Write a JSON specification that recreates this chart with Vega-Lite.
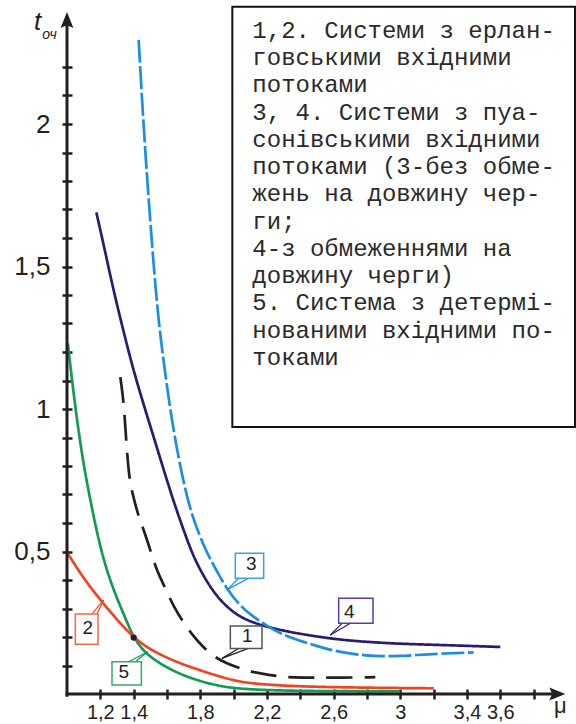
{
  "$schema": "https://vega.github.io/schema/vega-lite/v6.json",
  "width": 500,
  "height": 684,
  "autosize": {"type": "none"},
  "padding": {"left": 67, "top": 10, "right": 9, "bottom": 30},
  "background": "white",
  "config": {"view": {"stroke": null}},
  "datasets": {
    "curves": [
      {"s": "5", "x": 1.005, "y": 1.23}, {"s": "5", "x": 1.05, "y": 1.0}, {"s": "5", "x": 1.1, "y": 0.8}, {"s": "5", "x": 1.15, "y": 0.65}, {"s": "5", "x": 1.19, "y": 0.54}, {"s": "5", "x": 1.23, "y": 0.45}, {"s": "5", "x": 1.28, "y": 0.365}, {"s": "5", "x": 1.32, "y": 0.308}, {"s": "5", "x": 1.36, "y": 0.252}, {"s": "5", "x": 1.4, "y": 0.2}, {"s": "5", "x": 1.44, "y": 0.166}, {"s": "5", "x": 1.48, "y": 0.14}, {"s": "5", "x": 1.55, "y": 0.11}, {"s": "5", "x": 1.62, "y": 0.087}, {"s": "5", "x": 1.7, "y": 0.065}, {"s": "5", "x": 1.8, "y": 0.045}, {"s": "5", "x": 1.9, "y": 0.03}, {"s": "5", "x": 2.0, "y": 0.02}, {"s": "5", "x": 2.2, "y": 0.013}, {"s": "5", "x": 2.5, "y": 0.01}, {"s": "5", "x": 3.0, "y": 0.009},
      {"s": "2", "x": 1.0, "y": 0.497}, {"s": "2", "x": 1.1, "y": 0.405}, {"s": "2", "x": 1.2, "y": 0.33}, {"s": "2", "x": 1.3, "y": 0.26}, {"s": "2", "x": 1.4, "y": 0.198}, {"s": "2", "x": 1.5, "y": 0.155}, {"s": "2", "x": 1.62, "y": 0.122}, {"s": "2", "x": 1.7, "y": 0.103}, {"s": "2", "x": 1.8, "y": 0.083}, {"s": "2", "x": 1.9, "y": 0.064}, {"s": "2", "x": 2.0, "y": 0.048}, {"s": "2", "x": 2.1, "y": 0.037}, {"s": "2", "x": 2.3, "y": 0.029}, {"s": "2", "x": 2.5, "y": 0.025}, {"s": "2", "x": 2.8, "y": 0.022}, {"s": "2", "x": 3.2, "y": 0.02},
      {"s": "1", "x": 1.32, "y": 1.112}, {"s": "1", "x": 1.34, "y": 1.025}, {"s": "1", "x": 1.35, "y": 0.937}, {"s": "1", "x": 1.36, "y": 0.849}, {"s": "1", "x": 1.374, "y": 0.758}, {"s": "1", "x": 1.39, "y": 0.709}, {"s": "1", "x": 1.43, "y": 0.621}, {"s": "1", "x": 1.458, "y": 0.58}, {"s": "1", "x": 1.5, "y": 0.505}, {"s": "1", "x": 1.54, "y": 0.43}, {"s": "1", "x": 1.6, "y": 0.36}, {"s": "1", "x": 1.64, "y": 0.306}, {"s": "1", "x": 1.7, "y": 0.25}, {"s": "1", "x": 1.76, "y": 0.201}, {"s": "1", "x": 1.82, "y": 0.163}, {"s": "1", "x": 1.88, "y": 0.131}, {"s": "1", "x": 1.96, "y": 0.107}, {"s": "1", "x": 2.04, "y": 0.09}, {"s": "1", "x": 2.12, "y": 0.076}, {"s": "1", "x": 2.21, "y": 0.067}, {"s": "1", "x": 2.3, "y": 0.06}, {"s": "1", "x": 2.4, "y": 0.057}, {"s": "1", "x": 2.6, "y": 0.057}, {"s": "1", "x": 2.85, "y": 0.059},
      {"s": "4", "x": 1.176, "y": 1.69}, {"s": "4", "x": 1.228, "y": 1.555}, {"s": "4", "x": 1.278, "y": 1.419}, {"s": "4", "x": 1.34, "y": 1.27}, {"s": "4", "x": 1.398, "y": 1.137}, {"s": "4", "x": 1.46, "y": 1.015}, {"s": "4", "x": 1.52, "y": 0.902}, {"s": "4", "x": 1.57, "y": 0.806}, {"s": "4", "x": 1.62, "y": 0.712}, {"s": "4", "x": 1.67, "y": 0.623}, {"s": "4", "x": 1.74, "y": 0.51}, {"s": "4", "x": 1.78, "y": 0.457}, {"s": "4", "x": 1.84, "y": 0.393}, {"s": "4", "x": 1.9, "y": 0.342}, {"s": "4", "x": 1.97, "y": 0.3}, {"s": "4", "x": 2.04, "y": 0.27}, {"s": "4", "x": 2.12, "y": 0.25}, {"s": "4", "x": 2.2, "y": 0.236}, {"s": "4", "x": 2.3, "y": 0.222}, {"s": "4", "x": 2.4, "y": 0.211}, {"s": "4", "x": 2.55, "y": 0.197}, {"s": "4", "x": 2.7, "y": 0.187}, {"s": "4", "x": 2.85, "y": 0.181}, {"s": "4", "x": 3.0, "y": 0.176}, {"s": "4", "x": 3.3, "y": 0.171}, {"s": "4", "x": 3.6, "y": 0.165},
      {"s": "3", "x": 1.43, "y": 2.295}, {"s": "3", "x": 1.45, "y": 2.084}, {"s": "3", "x": 1.476, "y": 1.85}, {"s": "3", "x": 1.49, "y": 1.736}, {"s": "3", "x": 1.52, "y": 1.501}, {"s": "3", "x": 1.55, "y": 1.302}, {"s": "3", "x": 1.59, "y": 1.12}, {"s": "3", "x": 1.64, "y": 0.915}, {"s": "3", "x": 1.71, "y": 0.71}, {"s": "3", "x": 1.76, "y": 0.609}, {"s": "3", "x": 1.83, "y": 0.505}, {"s": "3", "x": 1.9, "y": 0.43}, {"s": "3", "x": 1.96, "y": 0.368}, {"s": "3", "x": 2.03, "y": 0.315}, {"s": "3", "x": 2.1, "y": 0.278}, {"s": "3", "x": 2.2, "y": 0.239}, {"s": "3", "x": 2.28, "y": 0.212}, {"s": "3", "x": 2.39, "y": 0.188}, {"s": "3", "x": 2.5, "y": 0.168}, {"s": "3", "x": 2.59, "y": 0.153}, {"s": "3", "x": 2.7, "y": 0.142}, {"s": "3", "x": 2.79, "y": 0.135}, {"s": "3", "x": 2.9, "y": 0.132}, {"s": "3", "x": 2.99, "y": 0.133}, {"s": "3", "x": 3.1, "y": 0.137}, {"s": "3", "x": 3.19, "y": 0.14}, {"s": "3", "x": 3.3, "y": 0.143}, {"s": "3", "x": 3.44, "y": 0.146}
    ],
    "legendbox": [{"x": 1.992, "x2": 4.048, "y": 2.411, "y2": 0.937}],
    "legendtext": [{"x": 2.112, "y": 2.302, "t": "1,2. Системи з ерлан-\nговськими    вхідними\nпотоками\n3,  4. Системи з пуа-\nсонівськими  вхідними\nпотоками (3-без обме-\nжень на довжину  чер-\nги;\n4-з   обмеженнями  на\nдовжину черги)\n5. Система з детермі-\nнованими вхідними по-\nтоками"}],
    "boxes": [
      {"s": "3", "x": 2.01, "x2": 2.18, "y": 0.494, "y2": 0.406},
      {"s": "4", "x": 2.63, "x2": 2.836, "y": 0.336, "y2": 0.248},
      {"s": "1", "x": 1.98, "x2": 2.17, "y": 0.239, "y2": 0.16},
      {"s": "2", "x": 1.05, "x2": 1.186, "y": 0.281, "y2": 0.175},
      {"s": "5", "x": 1.27, "x2": 1.446, "y": 0.113, "y2": 0.032}
    ],
    "leaders": [
      {"s": "3", "x": 2.03, "y": 0.406, "x2": 1.964, "y2": 0.367},
      {"s": "3", "x": 2.09, "y": 0.406, "x2": 1.964, "y2": 0.367},
      {"s": "4", "x": 2.65, "y": 0.248, "x2": 2.58, "y2": 0.207},
      {"s": "4", "x": 2.7, "y": 0.248, "x2": 2.58, "y2": 0.207},
      {"s": "1", "x": 2.03, "y": 0.16, "x2": 1.93, "y2": 0.125},
      {"s": "1", "x": 2.088, "y": 0.16, "x2": 1.93, "y2": 0.125},
      {"s": "2", "x": 1.15, "y": 0.281, "x2": 1.22, "y2": 0.33},
      {"s": "2", "x": 1.18, "y": 0.281, "x2": 1.22, "y2": 0.33},
      {"s": "5", "x": 1.37, "y": 0.113, "x2": 1.484, "y2": 0.148},
      {"s": "5", "x": 1.41, "y": 0.113, "x2": 1.484, "y2": 0.148}
    ],
    "boxlabels": [
      {"t": "3", "x": 2.105, "y": 0.455},
      {"t": "4", "x": 2.694, "y": 0.288},
      {"t": "1", "x": 2.082, "y": 0.205},
      {"t": "2", "x": 1.125, "y": 0.231},
      {"t": "5", "x": 1.34, "y": 0.076}
    ],
    "axislines": [
      {"x": 1, "x2": 1, "y": -0.004, "y2": 2.35},
      {"x": 1, "x2": 3.93, "y": 0, "y2": 0}
    ],
    "yarrow": [{"x": 1, "y": 2.365}],
    "xarrow": [{"x": 3.942, "y": 0}],
    "dot": [{"x": 1.4, "y": 0.198}],
    "tlabel": [{"x": 0.846, "y": 2.33, "t": "t"}],
    "sublabel": [{"x": 0.852, "y": 2.298, "t": "оч"}],
    "mulabel": [{"x": 3.96, "y": -0.067, "t": "μ"}]
  },
  "encoding": {
    "x": {
      "field": "x", "type": "quantitative",
      "scale": {"domain": [1, 4], "nice": false, "zero": false},
      "axis": {
        "orient": "bottom", "offset": -5, "domain": false, "grid": false, "title": null,
        "values": [1.2, 1.4, 1.6, 1.8, 2, 2.2, 2.4, 2.6, 2.8, 3, 3.2, 3.4, 3.6, 3.8],
        "tickSize": 10, "tickWidth": 2.5, "tickColor": "#231f20",
        "labelFont": "Liberation Sans", "labelFontSize": 20, "labelColor": "#231f20",
        "labelPadding": 3, "labelOverlap": false, "labelFlush": false,
        "labelExpr": "indexof([12,14,18,22,26,30,34,36], round(datum.value*10)) >= 0 ? replace(format(datum.value, '~g'), '.', ',') : ''"
      }
    },
    "y": {
      "field": "y", "type": "quantitative",
      "scale": {"domain": [0, 2.4], "nice": false, "zero": false},
      "axis": {
        "orient": "left", "offset": -5, "domain": false, "grid": false, "title": null,
        "values": [0.1, 0.2, 0.3, 0.4, 0.5, 0.6, 0.7, 0.8, 0.9, 1, 1.1, 1.2, 1.3, 1.4, 1.5, 1.6, 1.7, 1.8, 1.9, 2, 2.1, 2.2],
        "tickSize": 10, "tickWidth": 2.5, "tickColor": "#231f20",
        "labelFont": "Liberation Sans", "labelFontSize": 26, "labelColor": "#231f20",
        "labelPadding": 12, "labelOverlap": false, "labelFlush": false,
        "labelExpr": "indexof([5,10,15,20], round(datum.value*10)) >= 0 ? replace(format(datum.value, '~g'), '.', ',') : ''"
      }
    }
  },
  "layer": [
    {
      "data": {"name": "legendbox"},
      "mark": {"type": "rect", "fill": "white", "stroke": "#111111", "strokeWidth": 2},
      "encoding": {"x2": {"field": "x2"}, "y2": {"field": "y2"}}
    },
    {
      "data": {"name": "legendtext"},
      "mark": {"type": "text", "align": "left", "baseline": "alphabetic", "font": "Liberation Mono", "fontSize": 24, "lineHeight": 27.25, "lineBreak": "\n", "color": "#2a2a2a"},
      "encoding": {"text": {"field": "t"}}
    },
    {
      "data": {"name": "curves"},
      "mark": {"type": "line", "interpolate": "basis", "strokeWidth": 2.7, "strokeCap": "butt"},
      "encoding": {
        "color": {"field": "s", "type": "nominal", "scale": {"domain": ["1", "2", "3", "4", "5"], "range": ["#231f20", "#ee4422", "#1b8ee2", "#2b1a6e", "#139a55"]}, "legend": null},
        "strokeDash": {"field": "s", "type": "nominal", "scale": {"domain": ["1", "2", "3", "4", "5"], "range": [[26, 12], [1, 0], [23, 3.5], [1, 0], [1, 0]]}, "legend": null}
      }
    },
    {
      "data": {"name": "leaders"},
      "mark": {"type": "rule", "strokeWidth": 1.2},
      "encoding": {
        "x2": {"field": "x2"}, "y2": {"field": "y2"},
        "color": {"field": "s", "type": "nominal", "scale": {"domain": ["1", "2", "3", "4", "5"], "range": ["#231f20", "#ee4422", "#1b8ee2", "#2b1a6e", "#139a55"]}, "legend": null}
      }
    },
    {
      "data": {"name": "boxes"},
      "mark": {"type": "rect", "fill": "white", "strokeWidth": 1.5},
      "encoding": {
        "x2": {"field": "x2"}, "y2": {"field": "y2"},
        "stroke": {"field": "s", "type": "nominal", "scale": {"domain": ["1", "2", "3", "4", "5"], "range": ["#555555", "#f26a3d", "#3aa0ec", "#5a3c9a", "#3aa56e"]}, "legend": null}
      }
    },
    {
      "data": {"name": "boxlabels"},
      "mark": {"type": "text", "align": "center", "baseline": "middle", "font": "Liberation Sans", "fontSize": 19, "color": "#231f20"},
      "encoding": {"text": {"field": "t"}}
    },
    {
      "data": {"name": "axislines"},
      "mark": {"type": "rule", "strokeWidth": 3, "color": "#231f20", "strokeCap": "square"},
      "encoding": {"x2": {"field": "x2"}, "y2": {"field": "y2"}}
    },
    {
      "data": {"name": "yarrow"},
      "mark": {"type": "point", "shape": "M0,-1L-0.8,1L0,0.65L0.8,1Z", "size": 256, "filled": true, "color": "#231f20", "opacity": 1}
    },
    {
      "data": {"name": "xarrow"},
      "mark": {"type": "point", "shape": "M1,0L-1,-0.8L-0.65,0L-1,0.8Z", "size": 256, "filled": true, "color": "#231f20", "opacity": 1}
    },
    {
      "data": {"name": "dot"},
      "mark": {"type": "point", "shape": "circle", "size": 40, "filled": true, "color": "#231f20", "opacity": 1}
    },
    {
      "data": {"name": "tlabel"},
      "mark": {"type": "text", "align": "right", "baseline": "alphabetic", "font": "Liberation Sans", "fontStyle": "italic", "fontSize": 26, "color": "#231f20"},
      "encoding": {"text": {"field": "t"}}
    },
    {
      "data": {"name": "sublabel"},
      "mark": {"type": "text", "align": "left", "baseline": "alphabetic", "font": "Liberation Sans", "fontStyle": "italic", "fontSize": 14, "color": "#231f20"},
      "encoding": {"text": {"field": "t"}}
    },
    {
      "data": {"name": "mulabel"},
      "mark": {"type": "text", "align": "center", "baseline": "alphabetic", "font": "Liberation Sans", "fontSize": 22, "color": "#231f20"},
      "encoding": {"text": {"field": "t"}}
    }
  ]
}
